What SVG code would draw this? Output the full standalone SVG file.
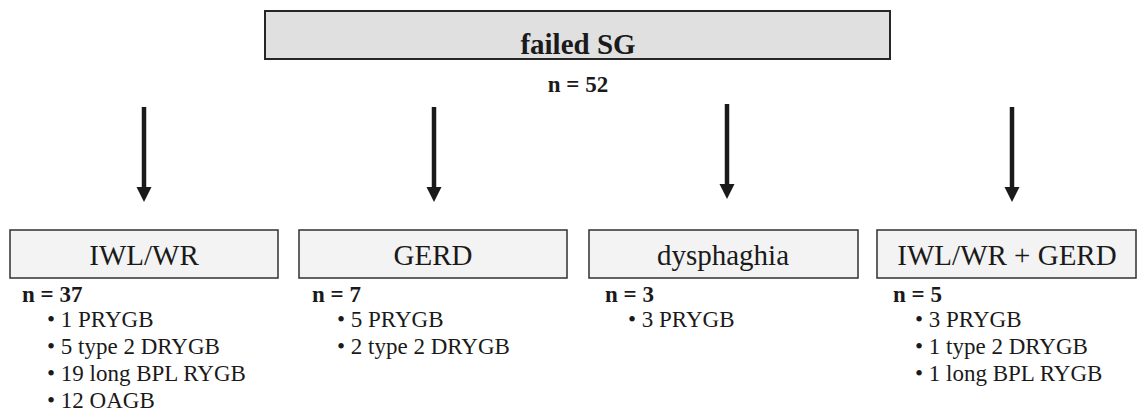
<svg xmlns="http://www.w3.org/2000/svg" width="1139" height="414" viewBox="0 0 1139 414">
<style>
text{font-family:'Liberation Serif','DejaVu Serif',serif;fill:#1a1a1a}
.top{fill:#e0e0e0;stroke:#262626;stroke-width:2}
.box{fill:#f3f3f3;stroke:#303030;stroke-width:1.5}
.lbl{font-size:29px;text-anchor:middle}
.b{font-weight:bold}
.n{font-size:23px;font-weight:bold}
.it{font-size:23px}
.arr{stroke:#1a1a1a;stroke-width:4.5;fill:none;marker-end:url(#ah)}
</style>
<defs>
<marker id="ah" markerUnits="userSpaceOnUse" markerWidth="16" markerHeight="16" refX="0" refY="7.5" orient="auto">
<path d="M0,0 L15,7.5 L0,15 Z" fill="#1a1a1a"/>
</marker>
</defs>
<g id="failed-sg" font-family="Liberation Serif, serif">
<rect class="top" x="265" y="11" width="625" height="48"/>
<text class="lbl b" x="578" y="54">failed SG</text>
<text class="n" x="578" y="92" text-anchor="middle">n = 52</text>
</g>
<g id="connectors">
<line class="arr" x1="144" y1="107" x2="144" y2="187"/>
<line class="arr" x1="434" y1="107" x2="434" y2="187"/>
<line class="arr" x1="727" y1="104" x2="727" y2="184"/>
<line class="arr" x1="1012" y1="107" x2="1012" y2="187"/>
</g>
<g id="iwl-wr" font-family="Liberation Serif, serif">
<rect class="box" x="10" y="230" width="268" height="48"/>
<text class="lbl" x="144" y="265">IWL/WR</text>
<text class="n" x="22" y="302">n = 37</text>
<text class="it" x="47" y="327">• 1 PRYGB</text>
<text class="it" x="47" y="354">• 5 type 2 DRYGB</text>
<text class="it" x="47" y="381">• 19 long BPL RYGB</text>
<text class="it" x="47" y="408">• 12 OAGB</text>
</g>
<g id="gerd" font-family="Liberation Serif, serif">
<rect class="box" x="299" y="230" width="268" height="48"/>
<text class="lbl" x="433" y="265">GERD</text>
<text class="n" x="312" y="302">n = 7</text>
<text class="it" x="337" y="327">• 5 PRYGB</text>
<text class="it" x="337" y="354">• 2 type 2 DRYGB</text>
</g>
<g id="dysphaghia" font-family="Liberation Serif, serif">
<rect class="box" x="589" y="230" width="269" height="48"/>
<text class="lbl" x="723" y="265">dysphaghia</text>
<text class="n" x="605" y="302">n = 3</text>
<text class="it" x="628" y="327">• 3 PRYGB</text>
</g>
<g id="iwl-wr-gerd" font-family="Liberation Serif, serif">
<rect class="box" x="877" y="230" width="259" height="48"/>
<text class="lbl" x="1007" y="265">IWL/WR + GERD</text>
<text class="n" x="893" y="302">n = 5</text>
<text class="it" x="915" y="327">• 3 PRYGB</text>
<text class="it" x="915" y="354">• 1 type 2 DRYGB</text>
<text class="it" x="915" y="381">• 1 long BPL RYGB</text>
</g>
</svg>
